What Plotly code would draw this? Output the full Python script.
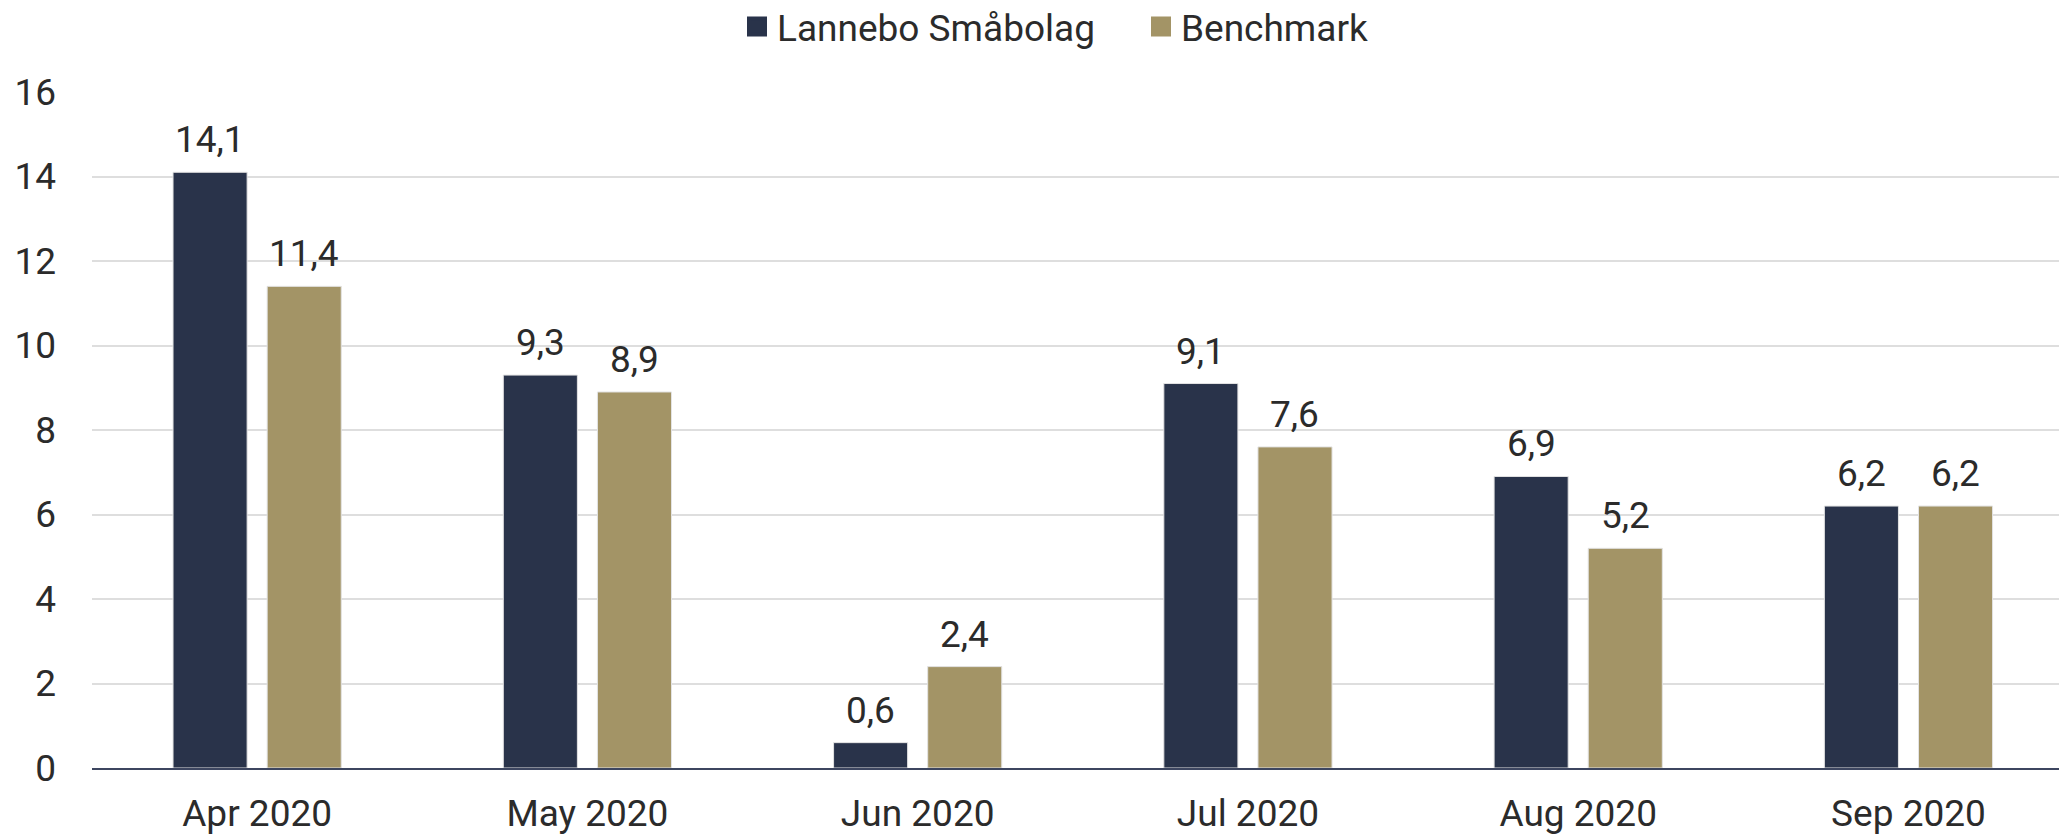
import plotly.graph_objects as go

categories = ["Apr 2020", "May 2020", "Jun 2020", "Jul 2020", "Aug 2020", "Sep 2020"]
lannebo = [14.1, 9.3, 0.6, 9.1, 6.9, 6.2]
benchmark = [11.4, 8.9, 2.4, 7.6, 5.2, 6.2]
series_names = ["Lannebo Småbolag", "Benchmark"]
y_ticks = [0, 2, 4, 6, 8, 10, 12, 14, 16]

NAVY = "#29334A"
GOLD = "#A39466"
TEXT = "#2b2b2b"
FONT = "Roboto"
FS = 37

# page body has an 8px default margin; the figure is sized to compensate
W, H = 2059, 828

def fmt(v):
    return f"{v:.1f}".replace(".", ",")

fig = go.Figure()
for name, vals, col in [(series_names[0], lannebo, NAVY), (series_names[1], benchmark, GOLD)]:
    fig.add_trace(go.Bar(
        x=categories, y=vals, name=name, showlegend=False,
        marker=dict(color=col, line=dict(color="#e3e3e3", width=1)),
    ))
    fig.add_trace(go.Scatter(
        x=[None], y=[None], mode="markers", name=name,
        marker=dict(symbol="square", size=16, color=col, line=dict(color=col, width=4)),
    ))

annotations = []
for vals, xs in [(lannebo, -47), (benchmark, 47)]:
    for c, v in zip(categories, vals):
        annotations.append(dict(
            x=c, y=v, text=fmt(v), showarrow=False, xanchor="center", yanchor="bottom",
            xshift=xs, yshift=9, font=dict(family=FONT, size=FS, color=TEXT),
        ))

fig.update_layout(
    width=W, height=H,
    paper_bgcolor="white", plot_bgcolor="white",
    margin=dict(l=84, r=0, t=84, b=68, pad=0, autoexpand=False),
    barmode="group", bargap=0.43, bargroupgap=0.213,
    font=dict(family=FONT, size=FS, color=TEXT),
    legend=dict(orientation="h", x=729 / W, xanchor="left", xref="container",
                y=1 - 19 / H, yanchor="middle", yref="container",
                font=dict(family=FONT, size=FS, color=TEXT),
                itemwidth=30, tracegroupgap=0, entrywidth=359, entrywidthmode="pixels"),
    annotations=annotations,
    xaxis=dict(range=[-0.5, 5.48], showgrid=False, showline=True, linecolor="#3d4660", linewidth=2,
               ticks="", tickfont=dict(family=FONT, size=FS, color=TEXT), ticklabelstandoff=12,
               automargin=False),
    yaxis=dict(range=[0, 16], tickvals=y_ticks, showgrid=True, gridcolor="#dedede", gridwidth=2,
               zeroline=False, showline=False, ticks="", automargin=False,
               tickfont=dict(family=FONT, size=FS, color=TEXT), ticklabelstandoff=35),
)

fig.write_html("out.html")
